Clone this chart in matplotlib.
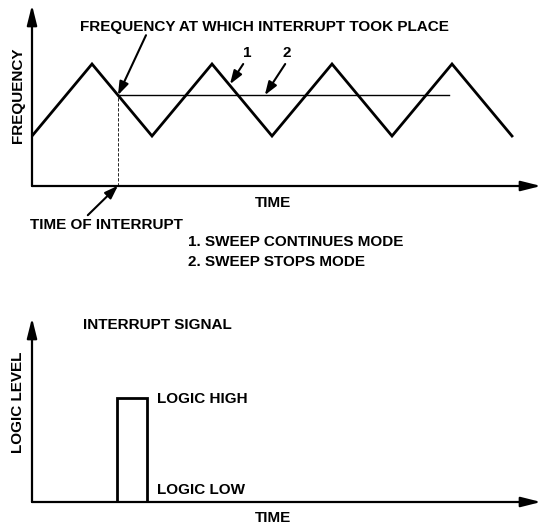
import numpy as np
import matplotlib
matplotlib.use("Agg")
import matplotlib.pyplot as plt

plt.rcParams["font.family"] = ["Liberation Sans", "DejaVu Sans"]
plt.rcParams["font.weight"] = "bold"

# sweep: triangle vertices (time in half-periods, normalised frequency)
sweep_t = [0, 1, 2, 3, 4, 5, 6, 7, 8]
sweep_f = [0, 1, 0, 1, 0, 1, 0, 1, 0]
# interrupt moment and the frequency held in "sweep stops" mode
interrupt_t = 1.433
stop_end_t = 6.95
# interrupt pulse (time, logic level)
pulse_t = [1.42, 1.42, 1.92, 1.92]
pulse_v = [0, 1, 1, 0]

fs = 11
arrow_kw = dict(arrowstyle="-|>,head_length=0.8,head_width=0.28", color="black",
                lw=1.5, shrinkA=0, shrinkB=0)
axis_kw = dict(arrowstyle="-|>,head_length=1.2,head_width=0.3", color="black",
               lw=1.6, shrinkA=0, shrinkB=0)

fig = plt.figure(figsize=(5.41, 5.27), dpi=100)

def bare_axes(rect):
    ax = fig.add_axes(rect)
    for s in ax.spines.values():
        s.set_visible(False)
    ax.set_xticks([])
    ax.set_yticks([])
    ax.patch.set_alpha(0)
    ax.annotate("", xy=(1, 0), xytext=(0, 0), xycoords="axes fraction", arrowprops=axis_kw)
    ax.annotate("", xy=(0, 1), xytext=(0, 0), xycoords="axes fraction", arrowprops=axis_kw)
    return ax

# ---- top: frequency sweep ----
ax1 = bare_axes([32 / 541, 1 - 186 / 527, 509 / 541, 181 / 527])
ax1.set_xlim(0, 509 / 60)
ax1.set_ylim(-50 / 72, 131 / 72)

ax1.plot(sweep_t, sweep_f, color="black", lw=2.0, solid_joinstyle="miter")
f_int = np.interp(interrupt_t, sweep_t, sweep_f)
ax1.plot([interrupt_t, stop_end_t], [f_int, f_int], color="black", lw=1.0)
ax1.plot([interrupt_t, interrupt_t], [ax1.get_ylim()[0], f_int], color="black",
         lw=0.6, ls=(0, (4, 2)))

ax1.text(3.87, 1.51, "FREQUENCY AT WHICH INTERRUPT TOOK PLACE", ha="center",
         va="center", fontsize=fs)
ax1.annotate("", xy=(interrupt_t, f_int), xytext=(1.9, 1.40), arrowprops=arrow_kw)
ax1.text(3.58, 1.15, "1", ha="center", va="center", fontsize=fs)
ax1.annotate("", xy=(3.3, 0.72), xytext=(3.52, 1.0), arrowprops=arrow_kw)
ax1.text(4.25, 1.15, "2", ha="center", va="center", fontsize=fs)
ax1.annotate("", xy=(3.88, f_int), xytext=(4.22, 1.0), arrowprops=arrow_kw)

ax1.text(4.02, -0.93, "TIME", ha="center", va="center", fontsize=fs)
ax1.text(-0.03, -1.24, "TIME OF INTERRUPT", ha="left", va="center", fontsize=fs)
ax1.annotate("", xy=(interrupt_t, -0.69), xytext=(0.93, -1.10), arrowprops=arrow_kw,
             annotation_clip=False)
ax1.text(2.6, -1.47, "1. SWEEP CONTINUES MODE", ha="left", va="center", fontsize=fs)
ax1.text(2.6, -1.75, "2. SWEEP STOPS MODE", ha="left", va="center", fontsize=fs)
ax1.text(-14 / 509, 0.5, "FREQUENCY", rotation=90, ha="center", va="center",
         fontsize=fs, transform=ax1.transAxes)

# ---- bottom: interrupt signal ----
ax2 = bare_axes([32 / 541, 25 / 527, 509 / 541, 184 / 527])
ax2.set_xlim(0, 509 / 60)
ax2.set_ylim(0, 184 / 104)

ax2.plot(pulse_t, pulse_v, color="black", lw=2.0, solid_joinstyle="miter")
ax2.text(0.85, 1.70, "INTERRUPT SIGNAL", ha="left", va="center", fontsize=fs)
ax2.text(2.08, 0.99, "LOGIC HIGH", ha="left", va="center", fontsize=fs)
ax2.text(2.08, 0.115, "LOGIC LOW", ha="left", va="center", fontsize=fs)
ax2.text(4.02, -0.154, "TIME", ha="center", va="center", fontsize=fs)
ax2.text(-14 / 509, 0.544, "LOGIC LEVEL", rotation=90, ha="center", va="center",
         fontsize=fs, transform=ax2.transAxes)

fig.savefig("out.png", dpi=100)
